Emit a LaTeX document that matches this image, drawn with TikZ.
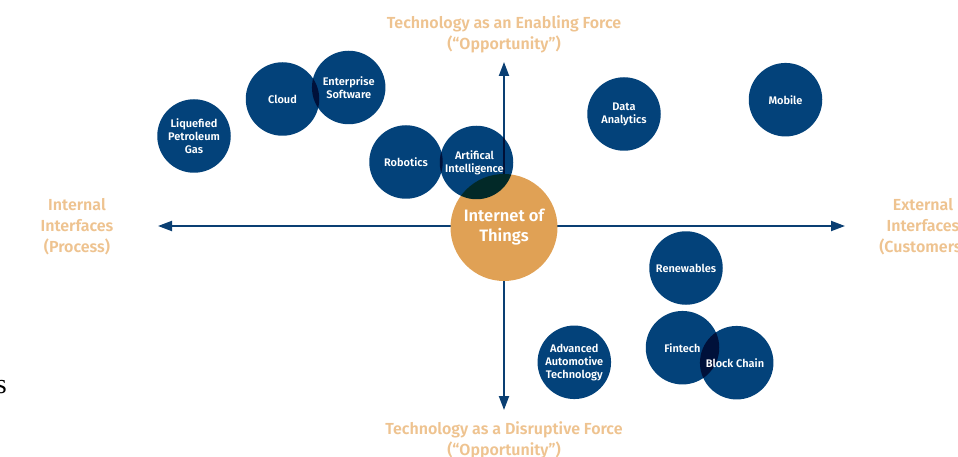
\documentclass[tikz,border=0pt]{standalone}
\usepackage{fontspec}
\setmainfont{Fira Sans}[BoldFont={Fira Sans SemiBold}]
\newfontfamily\strayserif{Liberation Serif}
\usetikzlibrary{arrows.meta}
\definecolor{navy}{HTML}{03427A}
\definecolor{iotorange}{HTML}{E0A155}
\definecolor{axislabel}{HTML}{EEC390}
\definecolor{axisblue}{HTML}{0A3F73}
\begin{document}
\begin{tikzpicture}[x=1pt,y=-1pt,
  tech/.style={circle, fill=navy, minimum size=73.5pt, inner sep=0pt},
  techlabel/.style={text=white, font=\bfseries\fontsize{11}{13}\selectfont, align=center, inner sep=0pt},
  axislbl/.style={text=axislabel, font=\bfseries\fontsize{16}{21}\selectfont, align=center, inner sep=0pt},
  axisarrow/.style={draw=axisblue, line width=2pt, -{Triangle[length=14pt,width=10pt]}}]
\useasboundingbox (0,0) rectangle (958,457);

% axes
\coordinate (o) at (504,226);
\coordinate (west) at (158,226);
\coordinate (east) at (845,226);
\coordinate (north) at (504,62);
\coordinate (south) at (504,410);
\draw[axisarrow] (o) -- (west);
\draw[axisarrow] (o) -- (east);
\draw[axisarrow] (o) -- (north);
\draw[axisarrow] (o) -- (south);

% axis captions
\node[axislbl] (ltop) at (504,34.5) {Technology as an Enabling Force\\(“Opportunity”)};
\node[axislbl] (lbot) at (504,440) {Technology as a Disruptive Force\\(“Opportunity”)};
\node[axislbl] (lleft) at (77,226.5) {Internal\\Interfaces\\(Process)};
\node[axislbl] (lright) at (923,226.5) {External\\Interfaces\\(Customers)};

% central topic
\node[circle, fill=iotorange, minimum size=107pt, inner sep=0pt, text=white,
      font=\bfseries\fontsize{16.5}{20}\selectfont, align=center] (iot) at (504,227.5) {Internet of\\Things};

% technology bubbles, multiplied where they overlap
\begin{scope}[blend mode=multiply]
  \node[tech] (lpg)    at (194,136) {};
  \node[tech] (cloud)  at (282.5,99) {};
  \node[tech] (ent)    at (348.7,87.5) {};
  \node[tech] (robot)  at (406,162) {};
  \node[tech] (ai)     at (476.5,162.5) {};
  \node[tech] (data)   at (624,114) {};
  \node[tech] (mobile) at (785.5,99.7) {};
  \node[tech] (renew)  at (686,268) {};
  \node[tech] (fin)    at (682.5,347.7) {};
  \node[tech] (block)  at (736.7,362.7) {};
  \node[tech] (auto)   at (574.3,362.3) {};
\end{scope}

% bubble captions
\node[techlabel] at (lpg)    {Liquefied\\Petroleum\\Gas};
\node[techlabel] at (cloud)  {Cloud};
\node[techlabel] at (ent)    {Enterprise\\Software};
\node[techlabel] at (robot)  {Robotics};
\node[techlabel] at (474.5,163) {Artifical\\Intelligence};
\node[techlabel] at (data)   {Data\\Analytics};
\node[techlabel] at (mobile) {Mobile};
\node[techlabel] at (renew)  {Renewables};
\node[techlabel] at (fin)    {Fintech};
\node[techlabel] at (735,363.3) {Block Chain};
\node[techlabel] at (auto)   {Advanced\\Automotive\\Technology};

% stray glyph at the left edge
\node[inner sep=0pt, anchor=base east, font=\strayserif\fontsize{28}{28}\selectfont] (stray) at (7,393) {s};
\end{tikzpicture}
\end{document}
